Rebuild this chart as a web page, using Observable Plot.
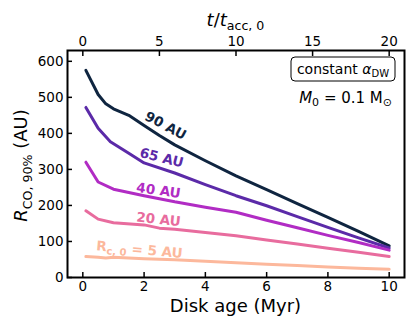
<!DOCTYPE html>
<html><head><meta charset="utf-8">
<script src="https://cdn.jsdelivr.net/npm/d3@7"></script>
<script src="https://cdn.jsdelivr.net/npm/@observablehq/plot@0.6"></script>
<style>
body{margin:0;background:#fff;}
svg{font-family:"DejaVu Sans",sans-serif;}
</style>
</head><body><div id="chart"></div>
<script>
// Disk age (Myr) sample points and R_CO,90% (AU) per initial radius
const age90 = [0.1,0.5,0.75,1,1.5,2,2.5,3,4,5,6,7,8,9,10];
const r90   = [575,508,482,468,450,422,394,368,324,282,244,205,167,128,88];
const age65 = [0.1,0.5,0.9,1.5,2,3,4,5,6,7,8,9,10];
const r65   = [472,414,377,345,318,290,258,227,199,169,139,110,82];
const age40 = [0.1,0.5,1,2,3,4,5,6,7,8,9,10];
const r40   = [320,265,245,227,210,195,181,159,138,117,97,76];
const age20 = [0.1,0.5,1,2,2.5,3,4,5,6,7,8,9,10];
const r20   = [185,162,152,146,137,134,125,116,104,93,81,70,58];
const age5  = [0.1,0.5,0.75,1,2,3,4,5,6,7,8,9,10];
const r5    = [58,56,54,56,52,49,45,41,37,33,29,26,23];

const seriesNames  = ["90 AU","65 AU","40 AU","20 AU","5 AU"];
const seriesColors = ["#0f2540","#5b2aa8","#b12cc4","#e86c9e","#fcb89c"];

// curve labels (data coordinates)
const labelText   = ["90 AU","65 AU","40 AU","20 AU","Rc,0 = 5 AU"];
const labelX      = [2.7,2.57,2.47,2.47,1.85];
const labelY      = [421,332,241,161,77];
const labelRotate = [28,14,8,6,5];

const xTicksBottom = [0,2,4,6,8,10];
const yTicks = [0,100,200,300,400,500,600];
const topTicks = [0,5,10,15,20]; // t / t_acc,0 = 2 * age

const rows = [];
[[age90,r90],[age65,r65],[age40,r40],[age20,r20],[age5,r5]].forEach(([a,r],i)=>{
  a.forEach((x,j)=>rows.push({age:x, r:r[j], s:seriesNames[i]}));
});
const labels = labelText.map((t,i)=>({t, x:labelX[i], y:labelY[i], rot:labelRotate[i], c:seriesColors[i]}));

const plot = Plot.plot({
  width:416, height:328,
  marginLeft:67, marginRight:12, marginTop:50, marginBottom:51,
  style:{fontFamily:"DejaVu Sans, sans-serif", fontSize:"13.5px", background:"#fff", color:"#000"},
  x:{domain:[-0.5,10.5]},
  y:{domain:[0,630]},
  color:{domain:seriesNames, range:seriesColors},
  marks:[
    Plot.line(rows,{x:"age", y:"r", z:"s", stroke:"s", strokeWidth:3, strokeLinejoin:"round"}),
    Plot.text(labels,{x:"x", y:"y", text:"t", rotate:"rot", fill:"c", fontWeight:"bold", fontSize:13.5}),
    Plot.axisY({ticks:yTicks, tickSize:-5, tickPadding:9, label:null, strokeWidth:1.5, fontSize:13.5}),
    Plot.axisX({anchor:"bottom", ticks:xTicksBottom, tickSize:-5, tickPadding:9, label:null, strokeWidth:1.5, fontSize:13.5}),
    Plot.axisX({anchor:"top", ticks:topTicks.map(d=>d/2), tickFormat:d=>String(d*2), tickSize:-5, tickPadding:10, label:null, strokeWidth:1.5, fontSize:13.5}),
    Plot.frame({stroke:"#000", strokeWidth:2})
  ]
});
document.getElementById("chart").appendChild(plot);

const svg = d3.select(plot);
const xs = plot.scale("x"), ys = plot.scale("y");
const cx = (xs.apply(-0.5)+xs.apply(10.5))/2;
const cy = (ys.apply(0)+ys.apply(630))/2;

// curve label with subscript
svg.selectAll("text").filter(function(){return this.textContent===labelText[4];}).each(function(){
  const t = d3.select(this); t.text("");
  t.append("tspan").text("R");
  t.append("tspan").attr("dy",3).attr("font-size",10).text("c, 0");
  t.append("tspan").attr("dy",-3).text(" = 5 AU");
});

// bottom axis label
svg.append("text").attr("x",cx).attr("y",312).attr("text-anchor","middle")
  .attr("font-size",18).text("Disk age (Myr)");

// top axis label
const tt = svg.append("text").attr("x",cx).attr("y",26).attr("text-anchor","middle").attr("font-size",18);
tt.append("tspan").attr("font-style","italic").text("t");
tt.append("tspan").text("/");
tt.append("tspan").attr("font-style","italic").text("t");
tt.append("tspan").attr("dy",4).attr("font-size",12.6).text("acc, 0");

// y axis label
const yl = svg.append("text").attr("transform",`translate(27,${cy+2}) rotate(-90)`).attr("text-anchor","middle").attr("font-size",18);
yl.append("tspan").attr("font-style","italic").text("R");
yl.append("tspan").attr("dy",5).attr("font-size",12.6).text("CO, 90%");
yl.append("tspan").attr("dy",-5).text(" (AU)");

// annotation box
const right = xs.apply(10.5);
svg.append("rect").attr("x",right-113).attr("y",57).attr("width",104).attr("height",24)
  .attr("rx",4).attr("fill","#fff").attr("stroke","#000").attr("stroke-width",1);
const bt = svg.append("text").attr("x",right-61).attr("y",74).attr("text-anchor","middle").attr("font-size",14);
bt.append("tspan").text("constant ");
bt.append("tspan").attr("font-style","italic").text("α");
bt.append("tspan").attr("dy",3).attr("font-size",10).text("DW");

const mt = svg.append("text").attr("x",right-12).attr("y",103).attr("text-anchor","end").attr("font-size",15);
mt.append("tspan").attr("font-style","italic").text("M");
mt.append("tspan").attr("dy",3).attr("font-size",11).text("0");
mt.append("tspan").attr("dy",-3).text(" = 0.1 M");
mt.append("tspan").attr("dy",3).attr("font-size",11).text("⊙");
</script>
</body></html>
